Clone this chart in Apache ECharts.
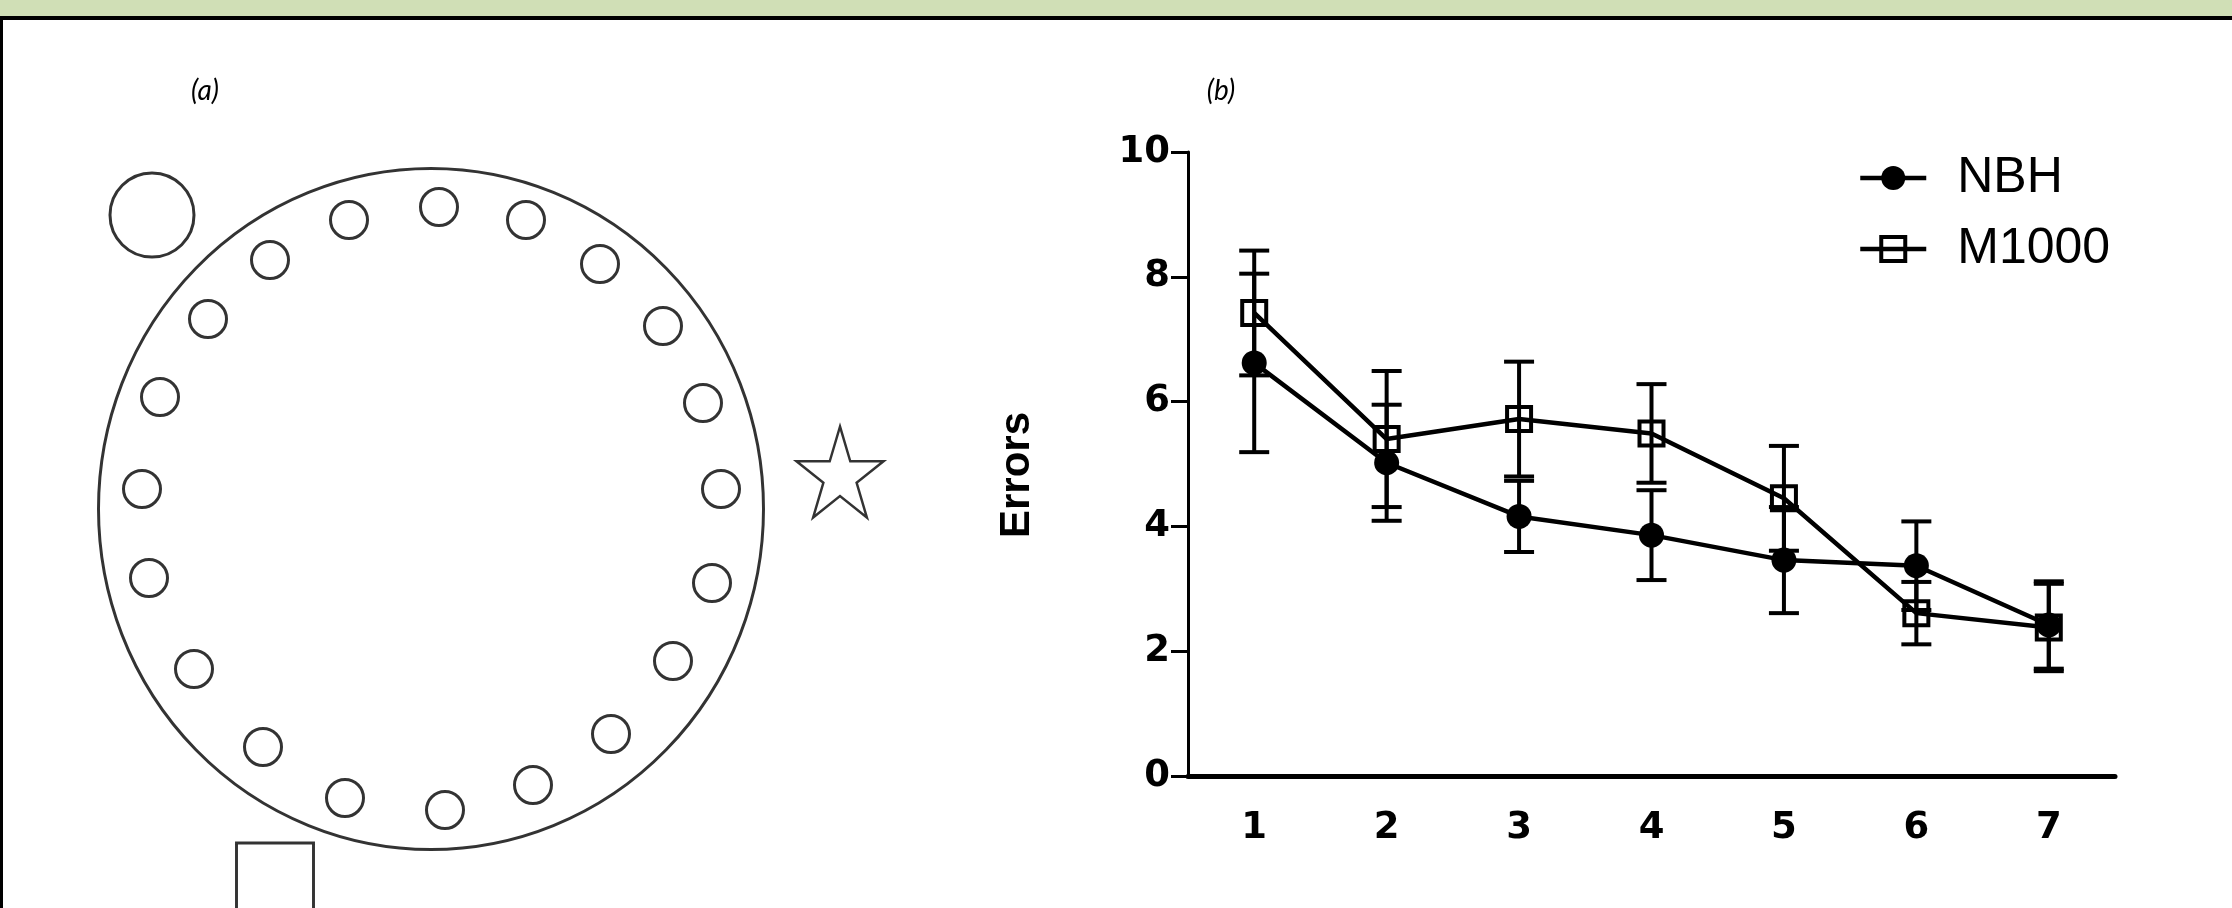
<!DOCTYPE html>
<html>
<head>
<meta charset="utf-8">
<title>Barnes maze errors</title>
<script src="https://cdn.jsdelivr.net/npm/echarts@6/dist/echarts.min.js"></script>
<style>
html, body { margin: 0; padding: 0; background: #fff; }
#chart { width: 2232px; height: 908px; }
</style>
</head>
<body>
<div id="chart"></div>
<script>
// panel (b): errors per training day (mean +/- SEM)
var days = ['1', '2', '3', '4', '5', '6', '7'];
var yTicks = [0, 2, 4, 6, 8, 10];
var nbhMean = [6.62, 5.02, 4.16, 3.86, 3.46, 3.37, 2.42];
var nbhErr = [1.43, 0.93, 0.57, 0.72, 0.85, 0.71, 0.70];
var m1000Mean = [7.42, 5.40, 5.72, 5.49, 4.45, 2.61, 2.38];
var m1000Err = [1.00, 1.09, 0.92, 0.79, 0.84, 0.50, 0.70];

// panel (a): maze layout
var mazeCenter = [[431, 509]];
var holes = [
  [439, 207], [349, 220], [526, 220], [270, 260], [600, 264],
  [208, 319], [663, 326], [160, 397], [703, 403], [142, 489],
  [721, 489], [149, 578], [712, 583], [194, 669], [673, 661],
  [263, 747], [611, 734], [345, 798], [533, 785], [445, 810]
];
var startHole = [[152, 215]];
var goalStar = [[840, 472]];
var escapeBox = [[275, 883]];

var chart = echarts.init(document.getElementById('chart'));

function barData(means, errs) {
  return means.map(function (m, i) {
    return [i, m - errs[i], m + errs[i]];
  });
}

function renderBar(params, api) {
  var lo = api.coord([api.value(0), api.value(1)]);
  var hi = api.coord([api.value(0), api.value(2)]);
  var half = 15;
  var style = { stroke: '#000', lineWidth: 4 };
  return {
    type: 'group',
    children: [
      { type: 'line', shape: { x1: hi[0], y1: hi[1], x2: lo[0], y2: lo[1] }, style: style },
      { type: 'line', shape: { x1: hi[0] - half, y1: hi[1], x2: hi[0] + half, y2: hi[1] }, style: style },
      { type: 'line', shape: { x1: lo[0] - half, y1: lo[1], x2: lo[0] + half, y2: lo[1] }, style: style }
    ]
  };
}

var outline = { color: '#fff', borderColor: '#000', borderWidth: 3 };
var starPath = 'path://M100,0L122.45,69.1L195.1,69.1L136.3,111.8L158.8,180.9L100,138.2L41.2,180.9L63.7,111.8L4.9,69.1L77.55,69.1Z';
var tickFont = { fontFamily: 'DejaVu Sans', fontWeight: 'bold', fontSize: 37, color: '#000' };

chart.setOption({
  animation: false,
  backgroundColor: '#fff',
  graphic: [
    { type: 'rect', shape: { x: 0, y: 0, width: 2232, height: 16 }, style: { fill: '#d0dfb6' } },
    { type: 'rect', shape: { x: 0, y: 16, width: 2232, height: 4 }, style: { fill: '#000' } },
    { type: 'rect', shape: { x: 0, y: 16, width: 3, height: 892 }, style: { fill: '#000' } },
    { type: 'text', style: { text: '(a)', x: 205, y: 91, font: 'italic 28px Lato', fill: '#000', textAlign: 'center', textVerticalAlign: 'middle' } },
    { type: 'text', style: { text: '(b)', x: 1221, y: 91, font: 'italic 28px Lato', fill: '#000', textAlign: 'center', textVerticalAlign: 'middle' } }
  ],
  legend: {
    data: [
      { name: 'NBH', itemStyle: { color: '#000', borderWidth: 0 } },
      { name: 'M1000', itemStyle: { color: 'rgba(255,255,255,0)', borderColor: '#000', borderWidth: 4 } }
    ],
    orient: 'vertical',
    left: 1853,
    top: 148,
    itemWidth: 66,
    itemHeight: 30,
    itemGap: 21,
    selectedMode: false,
    lineStyle: { color: '#000', width: 4.5 },
    textStyle: { fontFamily: 'Liberation Sans', fontSize: 50, color: '#000', padding: [0, 0, 0, 26] }
  },
  grid: [
    { left: 0, top: 0, width: 1000, height: 908 },
    { left: 1188, top: 152, width: 927, height: 624 }
  ],
  xAxis: [
    { gridIndex: 0, type: 'value', min: 0, max: 1000, show: false },
    {
      gridIndex: 1,
      type: 'category',
      data: days,
      boundaryGap: true,
      axisLine: { lineStyle: { color: '#000', width: 5 } },
      axisTick: { alignWithLabel: true, length: 20, lineStyle: { color: '#000', width: 3 } },
      axisLabel: Object.assign({ margin: 34 }, tickFont),
      splitLine: { show: false }
    }
  ],
  yAxis: [
    { gridIndex: 0, type: 'value', min: 0, max: 908, inverse: true, show: false },
    {
      gridIndex: 1,
      type: 'value',
      min: yTicks[0],
      max: yTicks[yTicks.length - 1],
      interval: yTicks[1] - yTicks[0],
      name: 'Errors',
      nameLocation: 'middle',
      nameRotate: 90,
      nameGap: 150,
      nameTextStyle: { fontFamily: 'Liberation Sans', fontWeight: 'bold', fontSize: 42, color: '#000', padding: [0, 22, 0, 0] },
      axisLine: { show: true, lineStyle: { color: '#000', width: 3 } },
      axisTick: { show: true, length: 17, lineStyle: { color: '#000', width: 3 } },
      axisLabel: Object.assign({ margin: 18 }, tickFont),
      splitLine: { show: false }
    }
  ],
  series: [
    { type: 'scatter', name: 'maze', xAxisIndex: 0, yAxisIndex: 0, silent: true, data: mazeCenter,
      symbol: 'circle', symbolSize: [665, 681], itemStyle: outline, z: 1 },
    { type: 'scatter', name: 'holes', xAxisIndex: 0, yAxisIndex: 0, silent: true, data: holes,
      symbol: 'circle', symbolSize: 37, itemStyle: outline, z: 2 },
    { type: 'scatter', name: 'start', xAxisIndex: 0, yAxisIndex: 0, silent: true, data: startHole,
      symbol: 'circle', symbolSize: 84, itemStyle: outline, z: 2 },
    { type: 'scatter', name: 'goal', xAxisIndex: 0, yAxisIndex: 0, silent: true, data: goalStar,
      symbol: starPath, symbolSize: [87, 91], itemStyle: { color: '#fff', borderColor: '#000', borderWidth: 2.5 }, z: 2 },
    { type: 'scatter', name: 'box', xAxisIndex: 0, yAxisIndex: 0, silent: true, data: escapeBox,
      symbol: 'rect', symbolSize: [77, 80], itemStyle: outline, z: 2 },

    { name: 'M1000', type: 'line', xAxisIndex: 1, yAxisIndex: 1, data: m1000Mean,
      symbol: 'rect', symbolSize: 24,
      itemStyle: { color: 'rgba(255,255,255,0)', borderColor: '#000', borderWidth: 4 },
      lineStyle: { color: '#000', width: 4.5 }, z: 3 },
    { name: 'NBH', type: 'line', xAxisIndex: 1, yAxisIndex: 1, data: nbhMean,
      symbol: 'circle', symbolSize: 25,
      itemStyle: { color: '#000' },
      lineStyle: { color: '#000', width: 4.5 }, z: 3 },
    { name: 'M1000 SEM', type: 'custom', xAxisIndex: 1, yAxisIndex: 1, silent: true,
      data: barData(m1000Mean, m1000Err), encode: { x: 0, y: [1, 2] }, renderItem: renderBar, z: 4 },
    { name: 'NBH SEM', type: 'custom', xAxisIndex: 1, yAxisIndex: 1, silent: true,
      data: barData(nbhMean, nbhErr), encode: { x: 0, y: [1, 2] }, renderItem: renderBar, z: 4 }
  ]
});
</script>
</body>
</html>
